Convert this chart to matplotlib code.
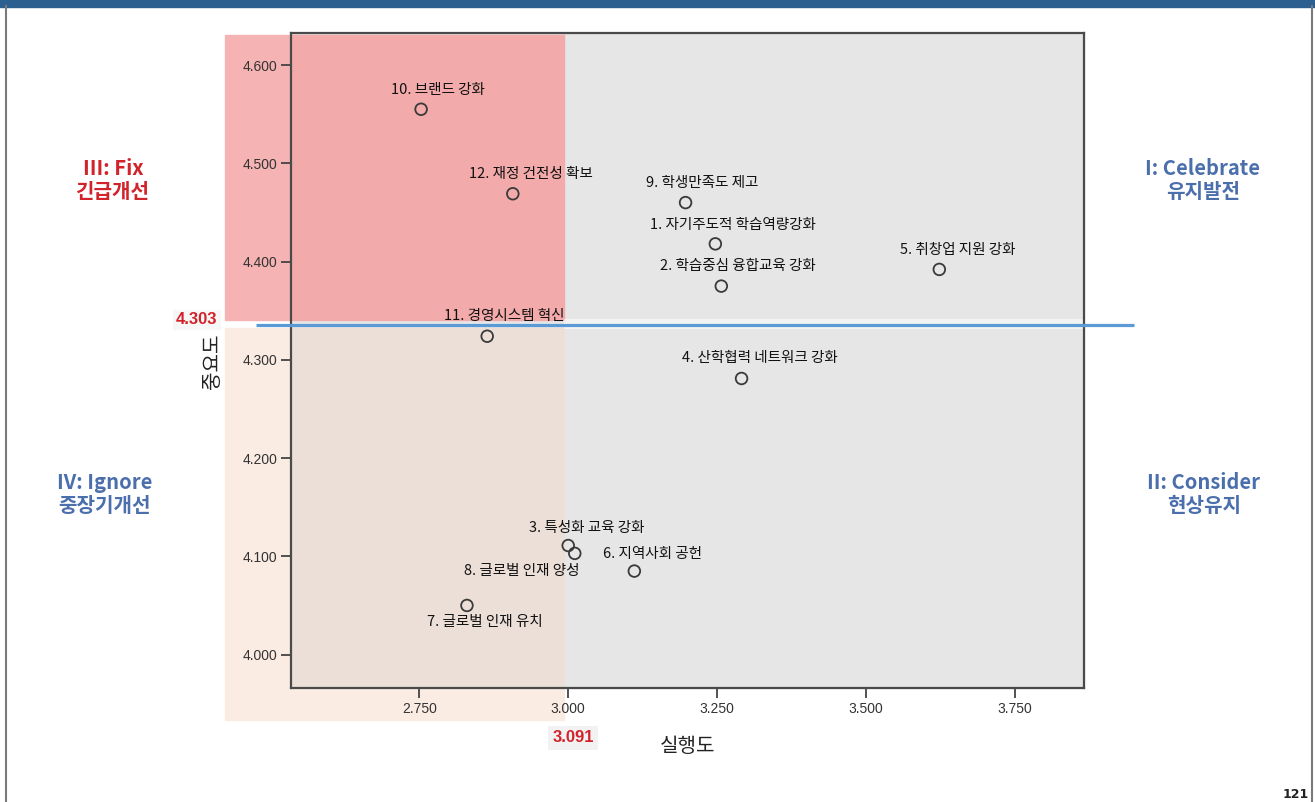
import matplotlib
matplotlib.use("Agg")
import matplotlib.pyplot as plt
from matplotlib.patches import Rectangle

# IPA data: 실행도 (performance) vs 중요도 (importance)
items = ["1. 자기주도적 학습역량강화", "2. 학습중심 융합교육 강화", "3. 특성화 교육 강화",
         "4. 산학협력 네트워크 강화", "5. 취창업 지원 강화", "6. 지역사회 공헌",
         "7. 글로벌 인재 유치", "8. 글로벌 인재 양성", "9. 학생만족도 제고",
         "10. 브랜드 강화", "11. 경영시스템 혁신", "12. 재정 건전성 확보"]
performance = [3.247, 3.257, 3.000, 3.291, 3.623, 3.111, 2.830, 3.011, 3.197, 2.753, 2.864, 2.907]
importance = [4.418, 4.375, 4.111, 4.281, 4.392, 4.085, 4.050, 4.103, 4.460, 4.555, 4.324, 4.469]
x_ticks = [2.75, 3.00, 3.25, 3.50, 3.75]
y_ticks = [4.0, 4.1, 4.2, 4.3, 4.4, 4.5, 4.6]
mean_perf = "3.091"
mean_imp = "4.303"

# label placement (pixels from the point)
label_offsets = [(18, 19), (17, 20), (19, 18), (18, 20), (18, 19), (18, 17),
                 (18, -17), (-53, -18), (17, 20), (17, 19), (17, 20), (18, 20)]

KR = ["Noto Sans CJK KR", "DejaVu Sans"]
RED = "#d2232a"
BLUE = "#4b6fad"

fig = plt.figure(figsize=(13.15, 8.02), dpi=100)
fig.patch.set_facecolor("white")

# background layer in pixel coordinates
bg = fig.add_axes([0, 0, 1, 1], zorder=0)
bg.set_xlim(0, 1315)
bg.set_ylim(802, 0)
bg.axis("off")

bg.add_patch(Rectangle((0, 0), 1315, 6.5, color="#2a5f8f"))
bg.plot([6, 6], [6, 802], color="#7a7a7a", lw=1.5)
bg.plot([1312, 1312], [6, 802], color="#7a7a7a", lw=1.5)

# plot area grey
bg.add_patch(Rectangle((291, 33), 793, 655, color="#e6e6e6"))
# quadrant shading (outside and inside the plot area)
bg.add_patch(Rectangle((225, 35), 66, 285, color="#f5b3b3"))
bg.add_patch(Rectangle((291, 35), 273, 285, color="#f3aaaa"))
bg.add_patch(Rectangle((225, 328), 66, 392, color="#fbece3"))
bg.add_patch(Rectangle((291, 328), 273, 360, color="#ecdfd8"))
bg.add_patch(Rectangle((291, 688), 273, 32, color="#fbece3"))
bg.add_patch(Rectangle((564, 319), 520, 10, color="white", alpha=0.55, lw=0))

# main scatter axes
ax = fig.add_axes([291 / 1315, (802 - 688) / 802, (1084 - 291) / 1315, (688 - 33) / 802], zorder=1)
ax.set_facecolor("none")
ax.scatter(performance, importance, s=70, facecolors="none", edgecolors="#3a3a3a", linewidths=1.3, zorder=3)
for name, px, py, off in zip(items, performance, importance, label_offsets):
    ax.annotate(name, (px, py), xytext=off, textcoords="offset pixels",
                ha="center", va="center", fontsize=10.5, family=KR, color="#111111", zorder=4)

ax.set_xlim(2.5346, 3.8659)
ax.set_ylim(3.966, 4.6326)
ax.set_xticks(x_ticks)
ax.set_yticks(y_ticks)
ax.set_xticklabels([f"{v:.3f}" for v in x_ticks])
ax.set_yticklabels([f"{v:.3f}" for v in y_ticks])
ax.tick_params(direction="out", length=7, width=1.3, color="#444444", labelsize=10,
               labelcolor="#333333", pad=3)
for lab in ax.get_xticklabels() + ax.get_yticklabels():
    lab.set_family(["Liberation Sans", "DejaVu Sans"])
for sp in ax.spines.values():
    sp.set_color("#4a4a4a")
    sp.set_linewidth(1.6)

# overlay layer
ov = fig.add_axes([0, 0, 1, 1], zorder=2)
ov.set_facecolor("none")
ov.set_xlim(0, 1315)
ov.set_ylim(802, 0)
ov.axis("off")

ov.plot([256, 1134], [325, 325], color="#5b9bd5", lw=2.3, solid_capstyle="butt")

ov.text(213, 361, "중요도", rotation=90, ha="center", va="center", fontsize=14.5, family=KR, color="#222222")
ov.text(688, 746, "실행도", ha="center", va="center", fontsize=14.5, family=KR, color="#222222")

ov.text(197, 320, mean_imp, ha="center", va="center", fontsize=12, fontweight="bold", color=RED,
        family=["Liberation Sans", "DejaVu Sans"],
        bbox=dict(facecolor="#f7f7f7", edgecolor="none", pad=2))
ov.text(573, 738, mean_perf, ha="center", va="center", fontsize=12, fontweight="bold", color=RED,
        family=["Liberation Sans", "DejaVu Sans"],
        bbox=dict(facecolor="#f2f2f2", edgecolor="none", pad=3))

quad = [(113, 180, "III: Fix\n긴급개선", RED),
        (1203, 180, "I: Celebrate\n유지발전", BLUE),
        (105, 494, "IV: Ignore\n중장기개선", BLUE),
        (1204, 494, "II: Consider\n현상유지", BLUE)]
for qx, qy, txt, col in quad:
    ov.text(qx, qy, txt, ha="center", va="center", fontsize=14.5, fontweight="bold",
            color=col, family=KR, linespacing=1.15)

ov.text(1296, 794, "121", ha="center", va="center", fontsize=9, fontweight="bold", color="#222222")

fig.savefig("out.png", dpi=100)
